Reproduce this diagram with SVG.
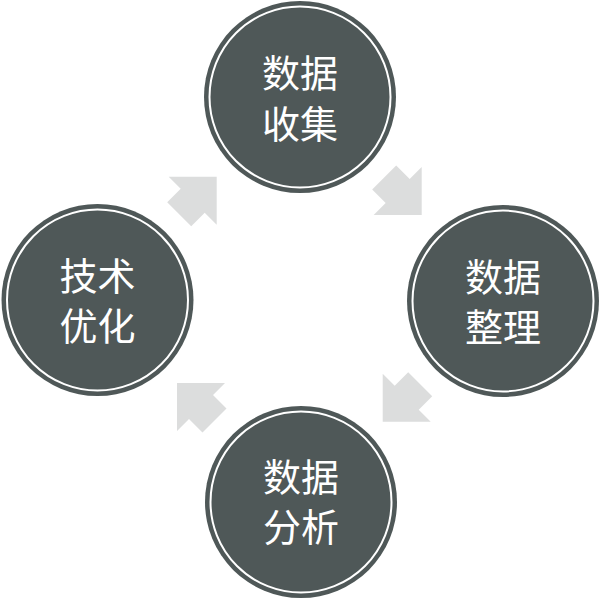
<svg xmlns="http://www.w3.org/2000/svg" width="600" height="600" viewBox="0 0 600 600">
<style>
.disc{fill:#4f5858}
.ring{fill:none;stroke:#ffffff;stroke-width:2}
.lbl{fill:#ffffff;font-family:"Noto Sans CJK SC","Noto Sans",sans-serif;font-size:38px;text-anchor:middle}
.arr{fill:#dcdddd}
</style>
<defs>
<polygon id="arrow" points="0,-48 0,0 -48,0 -36,-12 -49.5,-25.5 -25.5,-49.5 -12,-36"/>
</defs>
<rect width="600" height="600" fill="#ffffff"/>
<g id="connectors" class="arr">
<use href="#arrow" transform="translate(421.7,215)"/>
<use href="#arrow" transform="translate(382.7,421.7) rotate(90)"/>
<use href="#arrow" transform="translate(177,383) rotate(180)"/>
<use href="#arrow" transform="translate(216.7,176.7) rotate(-90)"/>
</g>
<g id="node-collect">
<circle class="disc" cx="300" cy="97" r="96"/>
<circle class="ring" cx="300" cy="97" r="90.5"/>
<text class="lbl" x="300" y="87">数据</text>
<text class="lbl" x="300" y="138">收集</text>
</g>
<g id="node-organize">
<circle class="disc" cx="503" cy="301" r="96"/>
<circle class="ring" cx="503" cy="301" r="90.5"/>
<text class="lbl" x="503" y="291">数据</text>
<text class="lbl" x="503" y="341">整理</text>
</g>
<g id="node-analyze">
<circle class="disc" cx="301" cy="502" r="96"/>
<circle class="ring" cx="301" cy="502" r="90.5"/>
<text class="lbl" x="301" y="491">数据</text>
<text class="lbl" x="301" y="541">分析</text>
</g>
<g id="node-optimize">
<circle class="disc" cx="97.5" cy="300" r="96"/>
<circle class="ring" cx="97.5" cy="300" r="90.5"/>
<text class="lbl" x="97.5" y="290">技术</text>
<text class="lbl" x="97.5" y="340">优化</text>
</g>
</svg>
